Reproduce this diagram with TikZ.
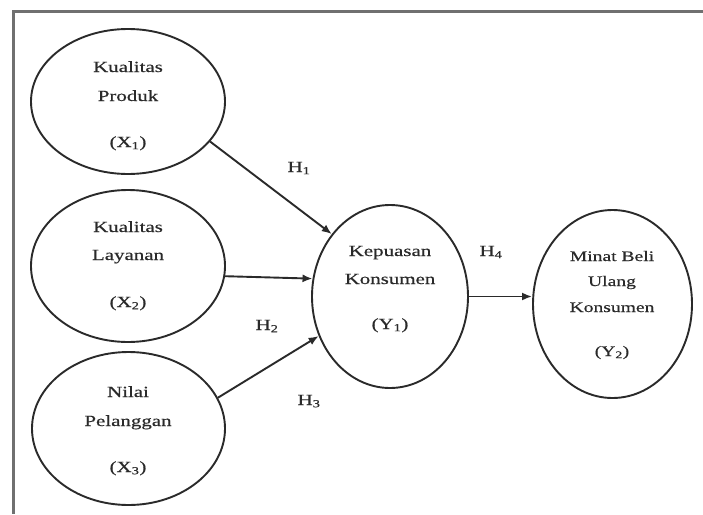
\documentclass[tikz,border=0pt]{standalone}
\usepackage{fontspec}
\setmainfont{Liberation Serif}[FakeStretch=1.35,FakeBold=0.5]
\usetikzlibrary{shapes.geometric,arrows.meta}
\definecolor{ink}{HTML}{2A2A2A}
\definecolor{framec}{HTML}{707070}
\begin{document}
\begin{tikzpicture}[x=1pt,y=-1pt,
  ell/.style={draw=ink, line width=1.9pt, ellipse, inner sep=0pt},
  txt/.style={text=ink, font=\fontsize{15.5}{17}\selectfont, inner sep=0pt, anchor=base},
  stxt/.style={text=ink, font=\fontsize{14.5}{16}\selectfont, inner sep=0pt, anchor=base},
  arr/.style={draw=ink, line width=1.9pt, -{Latex[length=10pt,width=8pt]}}]
\useasboundingbox (0,0) rectangle (703,514);
\fill[white] (0,0) rectangle (703,514);
% frame
\draw[framec, line width=3pt] (703,11) -- (13,11) -- (13,514);
% ellipses
\node[ell, minimum width=194pt, minimum height=145pt] (x1) at (128,101.5) {};
\node[ell, minimum width=194pt, minimum height=152pt] (x2) at (128,266) {};
\node[ell, minimum width=193pt, minimum height=153pt] (x3) at (128.5,428.5) {};
\node[ell, minimum width=156pt, minimum height=183pt] (y1) at (390,296.5) {};
\node[ell, minimum width=159pt, minimum height=188pt] (y2) at (612.5,304) {};
% texts
\node[txt] (t11) at (128,72) {Kualitas};
\node[txt] (t12) at (128,101) {Produk};
\node[txt] (t13) at (128,147) {(X\textsubscript{1})};
\node[txt] (t21) at (128,232) {Kualitas};
\node[txt] (t22) at (128,260) {Layanan};
\node[txt] (t23) at (128,307) {(X\textsubscript{2})};
\node[txt] (t31) at (128,397) {Nilai};
\node[txt] (t32) at (128,426) {Pelanggan};
\node[txt] (t33) at (128,472) {(X\textsubscript{3})};
\node[txt] (u11) at (390,256) {Kepuasan};
\node[txt] (u12) at (390,284) {Konsumen};
\node[txt] (u13) at (390,329) {(Y\textsubscript{1})};
\node[stxt] (u21) at (612,261) {Minat Beli};
\node[stxt] (u22) at (612,286) {Ulang};
\node[stxt] (u23) at (612,312) {Konsumen};
\node[stxt] (u24) at (612,356) {(Y\textsubscript{2})};
% arrows
\draw[arr] (x1.-26) -- (y1.133);
\draw[arr] (x2.-6) -- (y1.167);
\draw[arr] (x3.19) -- (y1.-151);
\draw[arr] (y1.east) -- (y2.west |- y1.east);
% hypothesis labels
\node[txt] (h1) at (299,172) {H\textsubscript{1}};
\node[txt] (h2) at (267,330) {H\textsubscript{2}};
\node[txt] (h3) at (309,405) {H\textsubscript{3}};
\node[txt] (h4) at (491,256) {H\textsubscript{4}};
\end{tikzpicture}
\end{document}
